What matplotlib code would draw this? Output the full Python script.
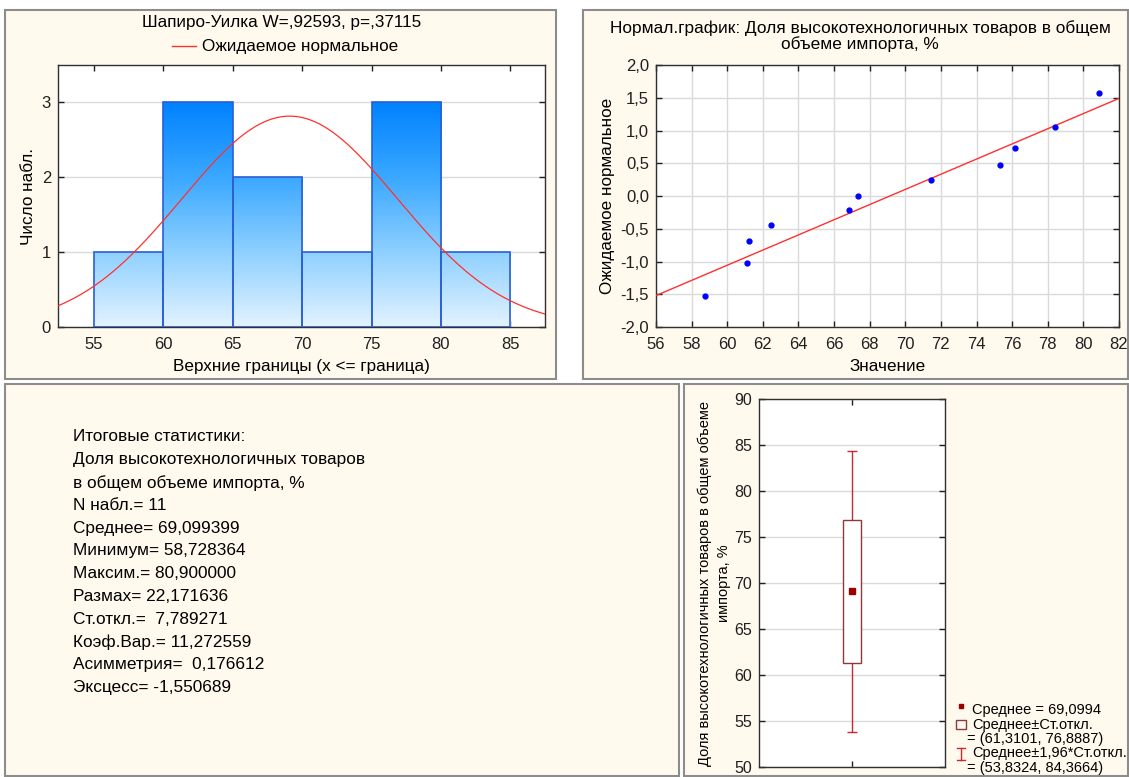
import numpy as np
import matplotlib
matplotlib.use("Agg")
import matplotlib.pyplot as plt
from matplotlib.colors import LinearSegmentedColormap
from matplotlib.patches import Rectangle
from matplotlib.lines import Line2D
from matplotlib.ticker import FuncFormatter, MultipleLocator

plt.rcParams['font.family'] = ['Liberation Sans', 'DejaVu Sans']

# histogram
bin_edges = [55, 60, 65, 70, 75, 80, 85]
bin_counts = [1, 3, 2, 1, 3, 1]
n_obs = 11
mean_val = 69.099399
sd_val = 7.789271

# normal probability plot
np_values = [58.73, 61.10, 61.22, 62.48, 66.82, 67.35, 71.42, 75.30, 76.18, 78.43, 80.90]
np_expected = [-1.53, -1.02, -0.69, -0.44, -0.22, 0.00, 0.25, 0.48, 0.73, 1.06, 1.58]
fit_x = [56, 82]
fit_z = [-1.52, 1.49]

# box plot
box_lo, box_hi = 61.3101, 76.8887
whisk_lo, whisk_hi = 53.8324, 84.3664

stats_lines = [
    "Итоговые статистики:",
    "Доля высокотехнологичных товаров",
    "в общем объеме импорта, %",
    "N набл.= 11",
    "Среднее= 69,099399",
    "Минимум= 58,728364",
    "Максим.= 80,900000",
    "Размах= 22,171636",
    "Ст.откл.=  7,789271",
    "Коэф.Вар.= 11,272559",
    "Асимметрия=  0,176612",
    "Эксцесс= -1,550689",
]

legend_rows = [
    ("mean", "Среднее = 69,0994"),
    ("box", "Среднее±Ст.откл."),
    (None, "= (61,3101, 76,8887)"),
    ("bar", "Среднее±1,96*Ст.откл."),
    (None, "= (53,8324, 84,3664)"),
]

W, H = 1129, 777
BG = '#FFF9EE'
GRID = '#DADADA'
fig = plt.figure(figsize=(W / 100, H / 100), dpi=100)
fig.patch.set_facecolor('white')


def rect(l, t, r, b):
    return [l / W, 1 - b / H, (r - l) / W, (b - t) / H]


# panel frames
for l, t, r, b in [(5, 10, 556, 379), (583, 10, 1128, 379), (5, 384, 679, 776), (684, 384, 1128, 776)]:
    fig.patches.append(Rectangle((l / W, 1 - b / H), (r - l) / W, (b - t) / H, transform=fig.transFigure,
                                 facecolor=BG, edgecolor='#8C8C8C', lw=1.5, zorder=-5))


def style_axes(ax):
    ax.set_facecolor('white')
    for s in ax.spines.values():
        s.set_color('#303030')
        s.set_linewidth(1.0)
    ax.tick_params(direction='in', length=4, width=1, top=True, right=True, labelsize=12, pad=5, colors='#202020')
    ax.tick_params(axis='x', pad=7)


comma = FuncFormatter(lambda v, _: f"{v:.1f}".replace('.', ','))

# ---------- histogram ----------
ax1 = fig.add_axes(rect(58, 65, 545, 327))
style_axes(ax1)
cmap = LinearSegmentedColormap.from_list('bl', ['#E3F3FF', '#8ED0FF', '#3AA8FF', '#0082FF'])
grad = np.linspace(0, 1, 256).reshape(-1, 1)
bars = ax1.bar(bin_edges[:-1], bin_counts, width=5, align='edge', facecolor='none',
               edgecolor='#2A5FD6', lw=1.2, zorder=3)
for bar in bars:
    x0 = bar.get_x()
    im = ax1.imshow(grad, extent=[x0, x0 + 5, 0, 3], origin='lower', aspect='auto', cmap=cmap, zorder=2)
    im.set_clip_path(bar)
xs = np.linspace(52.4, 87.5, 400)
ys = n_obs * 5 * np.exp(-0.5 * ((xs - mean_val) / sd_val) ** 2) / (sd_val * np.sqrt(2 * np.pi))
ax1.plot(xs, ys, color='#FF3030', lw=0.9, zorder=4)
ax1.set_xlim(52.4, 87.5)
ax1.set_ylim(0, 3.5)
ax1.set_xticks([55, 60, 65, 70, 75, 80, 85])
ax1.set_yticks([0, 1, 2, 3])
ax1.yaxis.grid(True, color=GRID, lw=1)
ax1.set_axisbelow(True)
ax1.set_xlabel("Верхние границы (x <= граница)", fontsize=12.3, labelpad=5)
ax1.set_ylabel("Число набл.", fontsize=12.3, labelpad=4)
fig.text(282 / W, 1 - 22 / H, "Шапиро-Уилка W=,92593, p=,37115", ha='center', va='center', fontsize=12.3)
fig.lines.append(Line2D([172 / W, 196 / W], [1 - 46 / H] * 2, transform=fig.transFigure, color='#FF3030', lw=1))
fig.text(202 / W, 1 - 46 / H, "Ожидаемое нормальное", ha='left', va='center', fontsize=12.3)

# ---------- normal probability plot ----------
ax2 = fig.add_axes(rect(656, 65, 1119, 327))
style_axes(ax2)
ax2.plot(fit_x, fit_z, color='#FF3030', lw=1, zorder=3)
ax2.plot(np_values, np_expected, 'o', color='#0000FF', ms=3.5, zorder=4)
ax2.set_xlim(56, 82)
ax2.set_ylim(-2, 2)
ax2.xaxis.set_major_locator(MultipleLocator(2))
ax2.yaxis.set_major_locator(MultipleLocator(0.5))
ax2.yaxis.set_major_formatter(comma)
ax2.grid(True, color=GRID, lw=1)
ax2.set_axisbelow(True)
ax2.set_xlabel("Значение", fontsize=12.3, labelpad=5)
ax2.set_ylabel("Ожидаемое нормальное", fontsize=12.3, labelpad=4)
fig.text(860 / W, 1 - 36 / H, "Нормал.график: Доля высокотехнологичных товаров в общем\nобъеме импорта, %",
         ha='center', va='center', fontsize=12.4, linespacing=1.05)

# ---------- summary text ----------
for i, line in enumerate(stats_lines):
    fig.text(73 / W, 1 - (437 + i * 22.8) / H, line, ha='left', va='center', fontsize=12.4)

# ---------- box plot ----------
ax4 = fig.add_axes(rect(759, 399, 945, 767))
style_axes(ax4)
ax4.set_xlim(0, 1)
ax4.set_ylim(50, 90)
ax4.set_xticks([0.5])
ax4.set_xticklabels([])
ax4.yaxis.set_major_locator(MultipleLocator(5))
ax4.tick_params(axis='y', labelsize=11.5)
ax4.yaxis.grid(True, color=GRID, lw=1)
ax4.set_axisbelow(True)
ax4.vlines(0.5, whisk_lo, box_lo, color='#C8282E', lw=1, zorder=3)
ax4.vlines(0.5, box_hi, whisk_hi, color='#C8282E', lw=1, zorder=3)
ax4.hlines([whisk_lo, whisk_hi], 0.475, 0.525, color='#C8282E', lw=1, zorder=3)
ax4.add_patch(Rectangle((0.452, box_lo), 0.096, box_hi - box_lo, facecolor='white',
                        edgecolor='#8E3A3A', lw=1, zorder=3))
ax4.plot([0.5], [mean_val], 's', color='#9A0000', ms=4, zorder=4)
ax4.set_ylabel("Доля высокотехнологичных товаров в общем объеме\nимпорта, %", fontsize=10.5,
               labelpad=2, linespacing=1.45)

# legend
axl = fig.add_axes(rect(950, 697, 1128, 777))
axl.set_xlim(950, 1128)
axl.set_ylim(777, 697)
axl.axis('off')
for i, (kind, label) in enumerate(legend_rows):
    y = 710 + i * 14.5
    if kind == 'mean':
        axl.plot([961], [y - 4], 's', color='#9A0000', ms=3.5)
    elif kind == 'box':
        axl.add_patch(Rectangle((956, y - 5), 10, 9.5, facecolor='none', edgecolor='#8E3A3A', lw=1))
    elif kind == 'bar':
        axl.plot([961, 961], [y - 6, y + 6], color='#C8282E', lw=1)
        axl.plot([957, 965], [y - 6, y - 6], color='#C8282E', lw=1)
        axl.plot([957, 965], [y + 6, y + 6], color='#C8282E', lw=1)
    xt = 972 if kind else 967
    axl.text(xt, y, label, ha='left', va='center', fontsize=10.5)

fig.savefig("out.png", dpi=100, facecolor=fig.get_facecolor())
